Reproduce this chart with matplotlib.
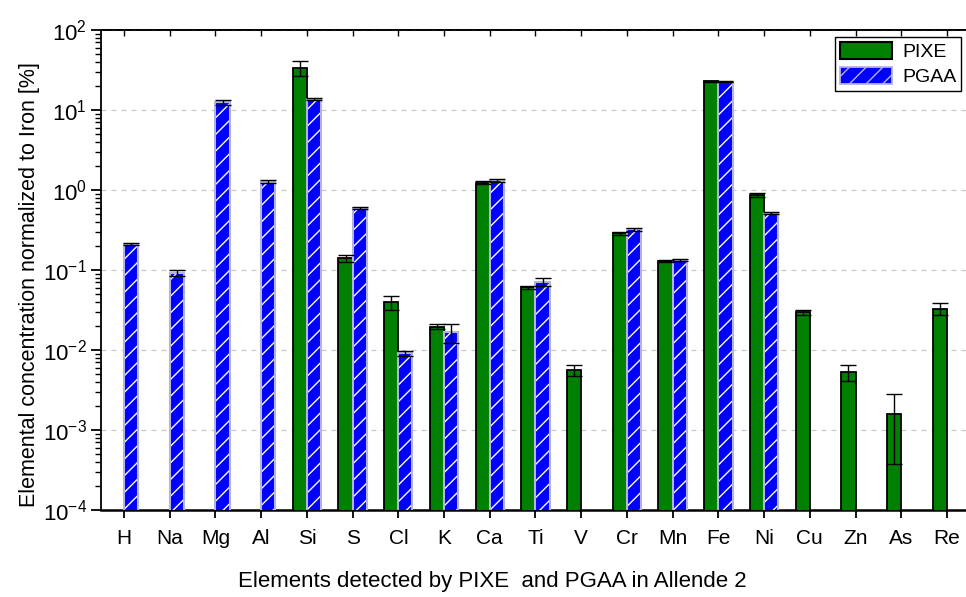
import numpy as np
import matplotlib
matplotlib.use("Agg")
import matplotlib.pyplot as plt
from matplotlib.ticker import LogLocator, NullFormatter
from matplotlib.patches import Patch

plt.rcParams['font.family'] = ['Liberation Sans', 'DejaVu Sans']
plt.rcParams['mathtext.fontset'] = 'custom'
plt.rcParams['mathtext.rm'] = 'Liberation Sans'
plt.rcParams['mathtext.it'] = 'Liberation Sans'
plt.rcParams['mathtext.bf'] = 'Liberation Sans'
plt.rcParams['hatch.linewidth'] = 1.0

# 数据
elements = ["H", "Na", "Mg", "Al", "Si", "S", "Cl", "K", "Ca", "Ti",
            "V", "Cr", "Mn", "Fe", "Ni", "Cu", "Zn", "As", "Re"]
nan = np.nan
pixe = [nan, nan, nan, nan, 33.8, 0.141, 0.0395, 0.0196, 1.23, 0.0607,
        0.00557, 0.287, 0.131, 23.0, 0.866, 0.0296, 0.00535, 0.00158, 0.0329]
pixe_err = [nan, nan, nan, nan, 7.0, 0.015, 0.0075, 0.0015, 0.05, 0.003,
            0.0009, 0.01, 0.004, 0.3, 0.04, 0.002, 0.0012, 0.0012, 0.0055]
pgaa = [0.213, 0.0926, 12.5, 1.27, 13.7, 0.596, 0.0091, 0.0166, 1.32, 0.0714,
        nan, 0.323, 0.1346, 22.6, 0.511, nan, nan, nan, nan]
pgaa_err = [0.006, 0.008, 0.9, 0.06, 0.3, 0.02, 0.0006, 0.0045, 0.05, 0.009,
            nan, 0.012, 0.004, 0.5, 0.015, nan, nan, nan, nan]

x = np.arange(len(elements))
pixe = np.array(pixe)
pixe_err = np.array(pixe_err)
pgaa = np.array(pgaa)
pgaa_err = np.array(pgaa_err)
w = 0.31

fig = plt.figure(figsize=(9.66, 5.97), dpi=100)
ax = fig.add_axes([101/966, 1-510/597, 1-101/966, (510-30)/597])

# PIXE
m1 = ~np.isnan(pixe)
ax.bar(x[m1] - w/2, pixe[m1], w, color='#008000', edgecolor='black',
       linewidth=1.3, zorder=3, label='PIXE')
ax.errorbar(x[m1] - w/2, pixe[m1], yerr=pixe_err[m1], fmt='none',
            ecolor='black', elinewidth=1.0, capsize=5.5, capthick=1.0, zorder=4)

# PGAA
m2 = ~np.isnan(pgaa)
ax.bar(x[m2] + w/2, pgaa[m2], w, color='#0000ff', edgecolor='white',
       linewidth=0, hatch='//', zorder=3)
ax.bar(x[m2] + w/2, pgaa[m2], w, fill=False, edgecolor='#b4b4dc',
       linewidth=1.5, zorder=3)
ax.errorbar(x[m2] + w/2, pgaa[m2], yerr=pgaa_err[m2], fmt='none',
            ecolor='black', elinewidth=1.0, capsize=5.5, capthick=1.0, zorder=4)

ax.set_yscale('log')
ax.set_ylim(1e-4, 1e2)
ax.set_xlim(-0.503, 18.416)
ax.set_xticks(x)
ax.set_xticklabels(elements, fontsize=15)

ax.yaxis.set_major_locator(LogLocator(base=10, numticks=10))
ax.yaxis.set_minor_locator(LogLocator(base=10, subs=np.arange(2, 10), numticks=20))
ax.yaxis.set_minor_formatter(NullFormatter())
ax.tick_params(axis='y', which='major', labelsize=16, length=7, width=1.3, direction='out', pad=3)
ax.tick_params(axis='y', which='minor', length=4, width=1.0, direction='out')
ax.tick_params(axis='x', which='major', length=6, width=1.3, direction='out', pad=8)

# 顶部刻度
sec = ax.secondary_xaxis('top')
sec.set_xticks(x)
sec.tick_params(axis='x', direction='in', length=4, width=1.0, labeltop=False)
sec.spines['top'].set_linewidth(1.3)

ax.spines['right'].set_visible(False)
ax.spines['top'].set_linewidth(1.3)
ax.spines['left'].set_linewidth(1.3)
ax.spines['bottom'].set_linewidth(1.8)

ax.yaxis.grid(True, which='major', linestyle=(0, (4, 4)), color='#c8c8c8', linewidth=0.9, zorder=0)
ax.set_axisbelow(True)

ax.set_ylabel('Elemental concentration normalized to Iron [%]', fontsize=15.5)
ax.yaxis.set_label_coords(-0.071, 0.469)
ax.set_xlabel('Elements detected by PIXE  and PGAA in Allende 2', fontsize=16)
ax.xaxis.set_label_coords(0.452, -0.15)
ax.xaxis.label.set_va('center')

# 图例
h1 = Patch(facecolor='#008000', edgecolor='black', linewidth=1.5, label='PIXE')
h2 = Patch(facecolor='#0000ff', edgecolor='#b4b4dc', hatch='//', linewidth=1.3, label='PGAA')
leg = ax.legend(handles=[h1, h2], loc='upper right', bbox_to_anchor=(961/966, 1-37/597),
                bbox_transform=fig.transFigure, borderaxespad=0, fontsize=14,
                fancybox=False, framealpha=1, edgecolor='black',
                handlelength=2.7, handleheight=1.0, borderpad=0.25, labelspacing=0.3,
                handletextpad=0.5)
leg.get_frame().set_linewidth(1.0)

fig.savefig('out.png', dpi=100)
